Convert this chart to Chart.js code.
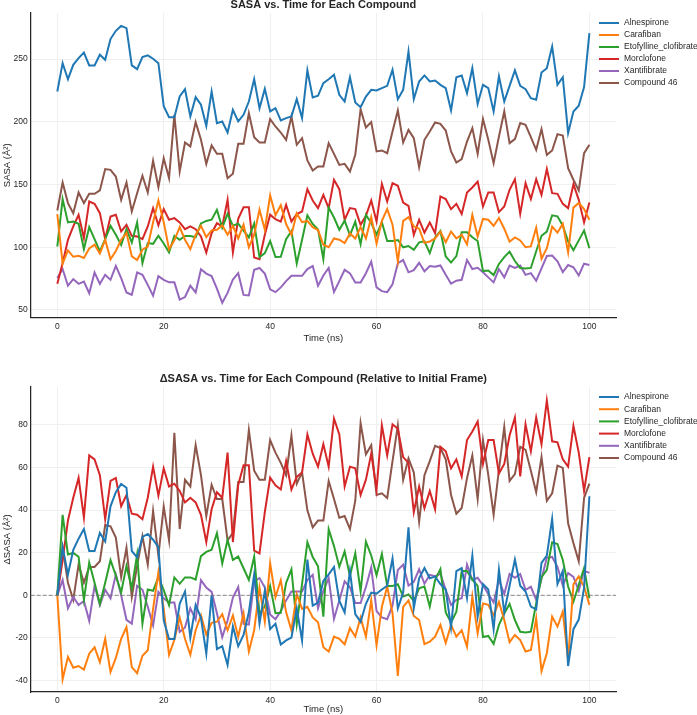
<!DOCTYPE html>
<html>
<head>
<meta charset="utf-8">
<script src="https://cdn.jsdelivr.net/npm/chart.js@4.4.0/dist/chart.umd.min.js"></script>
<style>
  html, body { margin: 0; padding: 0; background: #fff; }
  .box { position: relative; width: 697px; }
</style>
</head>
<body>
<div class="box" style="height:357px"><canvas id="sasaChart"></canvas></div>
<div class="box" style="height:358px"><canvas id="deltaChart"></canvas></div>
<script>
// time in ns, one frame per ns
const time = [0, 1, 2, 3, 4, 5, 6, 7, 8, 9, 10, 11, 12, 13, 14, 15, 16, 17, 18, 19,
  20, 21, 22, 23, 24, 25, 26, 27, 28, 29, 30, 31, 32, 33, 34, 35, 36, 37, 38, 39,
  40, 41, 42, 43, 44, 45, 46, 47, 48, 49, 50, 51, 52, 53, 54, 55, 56, 57, 58, 59,
  60, 61, 62, 63, 64, 65, 66, 67, 68, 69, 70, 71, 72, 73, 74, 75, 76, 77, 78, 79,
  80, 81, 82, 83, 84, 85, 86, 87, 88, 89, 90, 91, 92, 93, 94, 95, 96, 97, 98, 99, 100];

const compounds = ['Alnespirone', 'Carafiban', 'Etofylline_clofibrate', 'Morclofone', 'Xantifibrate', 'Compound 46'];

// SASA (Å²) per frame
const alnespirone = [224.2, 246.8, 234, 245.5, 250.8, 255.3, 245, 245, 253.5, 249.5, 266, 272.6, 276.5, 274.7, 245, 242, 251.6, 253, 250.3, 246.8,
  212.5, 203.7, 203.7, 220.2, 226, 204.3, 219.7, 213.6, 196.8, 224.2, 198.9, 200.3, 191.5, 209.6, 200.3, 205.6, 216.2, 234, 210.9, 226.3,
  208.3, 210.9, 201.1, 203, 204.3, 218.1, 203, 241, 219.4, 220.8, 230.9, 234, 237.5, 221.6, 216.2, 235.6, 215.4, 211.7, 220.2, 225.5,
  225, 226.9, 228.7, 241.5, 218.1, 225.5, 256.1, 218.1, 232.2, 237, 232.2, 233, 229.5, 226.9, 209.1, 235.6, 237, 222.9, 242.8, 214.3,
  229.5, 226.9, 208.3, 236.2, 216.2, 228.7, 241, 228.7, 226, 218.9, 217.6, 239.4, 242.8, 260.1, 229.5, 235.6, 191, 208.3, 212.8, 227.7,
  270.7];
const carafiban = [126.4, 87, 97.5, 92.4, 93.2, 91.5, 99, 102, 95, 106, 90.4, 97, 106, 111.5, 92.7, 89.8, 98, 100.6, 120, 137.3,
  120, 98.4, 105.5, 116, 106, 98.5, 110, 117, 108, 113.5, 114, 117.5, 110, 117, 107, 118, 100, 110, 130, 114,
  141.4, 125.5, 133.5, 118.5, 110, 127, 120, 121, 116, 113.7, 102, 100, 107, 106, 103.4, 111, 107, 116, 107, 124,
  103, 121, 130.5, 118, 88.5, 121, 124, 116.7, 114.8, 103.5, 104.6, 107, 112.5, 104, 112.5, 107, 110, 102.3, 125.8, 108.6,
  122.6, 121.9, 117, 123.3, 114.8, 104.4, 107.8, 105.4, 100, 100.7, 115.6, 90.8, 99.2, 116.4, 111.7, 118.7, 96, 131.6, 135.3, 130.5,
  121.9];
const etofylline = [100.6, 138.4, 119.8, 120.5, 118.7, 98.5, 116, 106.5, 96.6, 106.5, 117.1, 109.9, 101.9, 114.4, 103.8, 119.8, 87.3, 103.3, 102.7, 109.2,
  103, 96, 109, 106, 109, 109, 108, 119, 121, 122, 129.8, 115.6, 126.6, 117.2, 118.8, 113.3, 107.8, 118.8, 92, 95.3,
  105, 92.2, 92.4, 106.4, 112.8, 87, 106, 125.5, 118.6, 114.2, 90.6, 131.6, 123.7, 114, 121.2, 109.6, 120.4, 102.5, 125.8, 119.3,
  110, 120, 105, 105, 105.8, 100, 101, 98, 103.9, 104.7, 95.3, 107.8, 113, 92.6, 87.8, 92.9, 112, 112, 108, 105,
  81, 81.5, 77.8, 86.7, 92.1, 96.5, 89, 83.5, 83.1, 83.5, 96.8, 109.1, 112.5, 125.5, 124.7, 117.2, 104.7, 97.6, 105.5, 113.3,
  99.2];
const morclofone = [70.8, 87.3, 105.9, 116.6, 125.9, 107.3, 136.5, 134.6, 127.2, 106.5, 124.5, 125.9, 112.6, 117.9, 109.1, 108.6, 106.5, 116.6, 131.2, 117.6,
  130.4, 121.9, 123.2, 119.8, 114.4, 116.6, 114.4, 108.6, 95.8, 111.2, 119.2, 116.6, 137.8, 95.8, 122.6, 131.9, 131.9, 91.8, 90.5, 109.9,
  126, 122.4, 120.5, 133.8, 120.5, 126.4, 128.5, 146.3, 137.3, 131.2, 141.8, 131.2, 153.8, 146.3, 121.9, 131.2, 130.4, 117.9, 125.1, 137.3,
  120.5, 150.6, 136.5, 151.1, 149, 135.7, 133, 109.9, 121.9, 111.7, 119.8, 111.2, 140.5, 138.4, 130.4, 134.6, 126.6, 143.7, 147.7, 152.4,
  132.5, 143.7, 143.7, 128, 132.5, 145.8, 154.3, 126.6, 151.1, 138.4, 154.3, 141.8, 162.3, 143.1, 142.6, 134.6, 131.2, 150.3, 137.8, 119.8,
  135.7];
const xantifibrate = [75.4, 82.6, 69.3, 74.6, 70.8, 72.7, 63.4, 79.9, 70.8, 78, 74, 85.2, 75.4, 63.9, 62.1, 79.9, 78, 70, 61.3, 77,
  74, 72, 72, 58.2, 60.3, 69.3, 64, 82.5, 79, 77, 67, 55.7, 63.6, 74.3, 79.3, 62, 61.6, 82, 83.5, 79,
  66.4, 64.2, 68, 73, 77.2, 77.2, 77.2, 82.6, 85, 69.3, 77.5, 83.5, 64.3, 73, 82, 79.2, 71.8, 71.8, 79.3, 88.5,
  68, 65, 64.2, 70.5, 87.3, 89.8, 80, 81.7, 87.6, 80.8, 85, 84.4, 85.5, 78, 70.9, 73.3, 74, 89.8, 82.6, 83.6,
  80.1, 76, 72, 82.6, 76, 85.4, 83.6, 85.4, 78, 79.4, 73.3, 83.2, 93, 93.4, 88.8, 80.1, 85.8, 84, 77.5, 86.9,
  85.9];
const compound46 = [129.3, 151.6, 135.2, 127.2, 143.7, 135.2, 142.6, 142.6, 145.3, 162.3, 161.7, 156.4, 137.8, 151.6, 128.5, 143.1, 157, 143.7, 168.9, 147.9,
  171, 155.1, 205.6, 160.4, 183.5, 180.4, 199.8, 185.7, 166.5, 181.2, 174.5, 174.5, 155.1, 158.6, 182.5, 182.5, 206.9, 187.8, 183.5, 183.5,
  202.2, 196.3, 191.5, 185.7, 204.3, 181.7, 187, 169.2, 161.2, 164.4, 164.4, 183, 174.5, 165.7, 166.5, 160.4, 173.7, 210.1, 195.5, 199.8,
  176.4, 177.2, 175, 192.3, 209.1, 183.5, 193.6, 187, 163.9, 185.7, 192.3, 199.5, 198.4, 193.1, 176.4, 167.6, 170.3, 184.3, 195, 174.5,
  202.2, 185.7, 167.1, 188.3, 208.3, 183, 186.2, 199, 197.6, 187.8, 177.7, 194.2, 173.7, 177.2, 190.2, 189.1, 163.1, 153.8, 145.3, 175,
  181.7];

const timeTicks = [0, 20, 40, 60, 80, 100];
const sasaTicks = [50, 100, 150, 200, 250];
const deltaTicks = [-40, -20, 0, 20, 40, 60, 80];

const colors = ['#1f77b4', '#ff7f0e', '#2ca02c', '#d62728', '#9467bd', '#8c564b'];
const sasaSeries = [alnespirone, carafiban, etofylline, morclofone, xantifibrate, compound46];

// change relative to the first frame
const relative = arr => arr.map(v => Math.round((v - arr[0]) * 10) / 10);

const fontFamily = "'Liberation Sans', Arial, sans-serif";
const textColor = '#262626';
const gridColor = '#efefef';

const figureText = {
  id: 'figureText',
  afterDraw(chart, args, opts) {
    const { ctx, chartArea } = chart;
    ctx.save();
    ctx.fillStyle = textColor;
    ctx.font = 'bold 11px ' + fontFamily;
    ctx.textAlign = 'center';
    ctx.textBaseline = 'middle';
    ctx.fillText(opts.title, (chartArea.left + chartArea.right) / 2, opts.titleY);

    ctx.font = '8.5px ' + fontFamily;
    ctx.textAlign = 'left';
    chart.data.datasets.forEach((ds, i) => {
      const y = opts.legendTop + i * opts.legendStep;
      ctx.strokeStyle = ds.borderColor;
      ctx.lineWidth = 2;
      ctx.beginPath();
      ctx.moveTo(opts.legendX, y);
      ctx.lineTo(opts.legendX + 20, y);
      ctx.stroke();
      ctx.fillStyle = textColor;
      ctx.fillText(ds.label, opts.legendX + 25, y);
    });
    ctx.restore();
  }
};

const zeroLine = {
  id: 'zeroLine',
  afterDatasetsDraw(chart, args, opts) {
    if (!opts.show) return;
    const { ctx, chartArea, scales } = chart;
    const y = scales.y.getPixelForValue(0);
    ctx.save();
    ctx.strokeStyle = 'rgba(110,110,110,0.8)';
    ctx.lineWidth = 1;
    ctx.setLineDash([4, 2]);
    ctx.beginPath();
    ctx.moveTo(chartArea.left, y);
    ctx.lineTo(chartArea.right, y);
    ctx.stroke();
    ctx.restore();
  }
};

function makeChart(id, seriesList, cfg) {
  const datasets = seriesList.map((vals, i) => ({
    label: compounds[i],
    data: time.map((t, j) => ({ x: t, y: vals[j] })),
    borderColor: colors[i],
    backgroundColor: colors[i],
    borderWidth: 2,
    pointRadius: 0,
    tension: 0,
    fill: false
  }));

  return new Chart(document.getElementById(id).getContext('2d'), {
    type: 'line',
    data: { datasets: datasets },
    plugins: [figureText, zeroLine],
    options: {
      responsive: true,
      maintainAspectRatio: false,
      animation: false,
      devicePixelRatio: 1,
      layout: { padding: { top: cfg.padTop, right: 81, left: 0, bottom: 0 } },
      scales: {
        x: {
          type: 'linear',
          min: -5,
          max: 105,
          afterBuildTicks: s => { s.ticks = timeTicks.map(v => ({ value: v })); },
          afterFit: s => { s.height = cfg.xHeight; },
          grid: { color: gridColor, drawTicks: false },
          border: { color: textColor, width: 1.25 },
          ticks: { font: { family: fontFamily, size: 8.5 }, color: textColor, padding: 4, maxRotation: 0 },
          title: {
            display: true, text: 'Time (ns)', color: textColor,
            font: { family: fontFamily, size: 9.5 },
            padding: { top: 0, bottom: cfg.xTitlePad }
          }
        },
        y: {
          min: cfg.yMin,
          max: cfg.yMax,
          afterBuildTicks: s => { s.ticks = cfg.yTicks.map(v => ({ value: v })); },
          afterFit: s => { s.width = 30.7; },
          grid: { color: gridColor, drawTicks: false },
          border: { color: textColor, width: 1.25 },
          ticks: { font: { family: fontFamily, size: 8.5 }, color: textColor, padding: 3 },
          title: {
            display: true, text: cfg.yTitle, color: textColor,
            font: { family: fontFamily, size: 9.5 },
            padding: { top: 2, bottom: 0 }
          }
        }
      },
      plugins: {
        legend: { display: false },
        tooltip: { enabled: false },
        figureText: {
          title: cfg.title, titleY: cfg.titleY,
          legendX: 599, legendTop: cfg.legendTop, legendStep: cfg.legendStep
        },
        zeroLine: { show: cfg.zero }
      }
    }
  });
}

const sasaChart = makeChart('sasaChart', sasaSeries, {
  padTop: 13, xHeight: 39.4, xTitlePad: 13,
  yMin: 43.9, yMax: 286.8, yTicks: sasaTicks, yTitle: 'SASA (Å²)',
  title: 'SASA vs. Time for Each Compound', titleY: 5,
  legendTop: 23, legendStep: 12, zero: false
});

const deltaChart = makeChart('deltaChart', sasaSeries.map(relative), {
  padTop: 30, xHeight: 23, xTitlePad: 0,
  yMin: -45.4, yMax: 97.8, yTicks: deltaTicks, yTitle: 'ΔSASA (Å²)',
  title: 'ΔSASA vs. Time for Each Compound (Relative to Initial Frame)', titleY: 22,
  legendTop: 40, legendStep: 12.2, zero: true
});
</script>
</body>
</html>
